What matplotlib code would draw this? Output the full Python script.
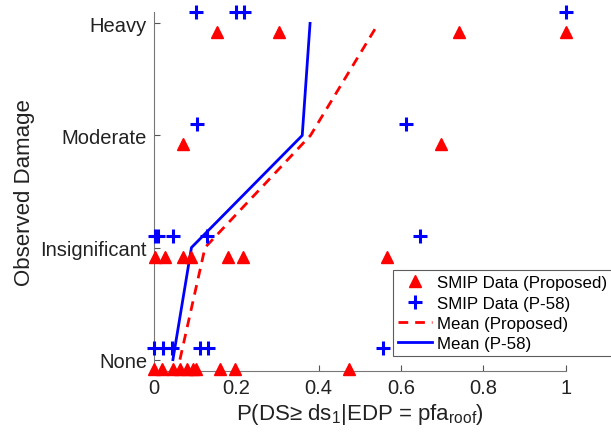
import matplotlib
matplotlib.use("Agg")
import matplotlib.pyplot as plt
import numpy as np

plt.rcParams["font.family"] = ["Liberation Sans", "DejaVu Sans"]
plt.rcParams["mathtext.fontset"] = "custom"
plt.rcParams["mathtext.rm"] = "Liberation Sans"
plt.rcParams["mathtext.it"] = "Liberation Sans"

damage_levels = ["None", "Insignificant", "Moderate", "Heavy"]

# SMIP data, proposed method: x value and damage level index
proposed_x = [0.152, 0.304, 0.741, 1.0,
              0.071, 0.697,
              0.002, 0.027, 0.071, 0.091, 0.18, 0.217, 0.567,
              0.0, 0.019, 0.047, 0.063, 0.079, 0.095, 0.103, 0.16, 0.197, 0.474]
proposed_lvl = [3, 3, 3, 3,
                2, 2,
                1, 1, 1, 1, 1, 1, 1,
                0, 0, 0, 0, 0, 0, 0, 0, 0, 0]

# SMIP data, P-58
p58_x = [0.101, 0.2, 0.218, 1.0,
         0.104, 0.612,
         0.002, 0.01, 0.047, 0.128, 0.646,
         0.0, 0.021, 0.043, 0.112, 0.132, 0.557]
p58_lvl = [3, 3, 3, 3,
           2, 2,
           1, 1, 1, 1, 1,
           0, 0, 0, 0, 0, 0]

# mean curves
mean_lvl = [0, 1, 2, 3]
mean_proposed = [0.063, 0.124, 0.38, 0.545]
mean_p58 = [0.046, 0.091, 0.36, 0.379]

fig = plt.figure(figsize=(6.11, 4.39), dpi=100)
ax = fig.add_axes([0.252, 0.153, 0.674, 0.817])

ax.plot(proposed_x, np.array(proposed_lvl) - 0.08, "^", color="red",
        markersize=9, label="SMIP Data (Proposed)", clip_on=False, zorder=3)
ax.plot(p58_x, np.array(p58_lvl) + 0.1, "+", color="blue",
        markersize=10, markeredgewidth=2.2, label="SMIP Data (P-58)",
        clip_on=False, zorder=3)
ax.plot(mean_proposed, mean_lvl, "--", color="red", lw=2,
        dashes=(3.5, 2.5), label="Mean (Proposed)")
ax.plot(mean_p58, mean_lvl, "-", color="blue", lw=2, label="Mean (P-58)")

ax.set_xlim(0, 1)
ax.set_ylim(-0.1, 3.1)
ax.set_xticks([0, 0.2, 0.4, 0.6, 0.8, 1])
ax.set_xticklabels(["0", "0.2", "0.4", "0.6", "0.8", "1"])
ax.set_yticks(range(4))
ax.set_yticklabels(damage_levels)
ax.tick_params(direction="in", length=4, labelsize=14.5, colors="#555555",
               labelcolor="#222222", pad=5)
for s in ["top", "right"]:
    ax.spines[s].set_visible(False)
for s in ["left", "bottom"]:
    ax.spines[s].set_color("#777777")
    ax.spines[s].set_linewidth(0.8)

ax.set_ylabel("Observed Damage", fontsize=16, color="#222222", labelpad=4)
ax.set_xlabel("P(DS\u2265 ds$_1$|EDP = pfa$_{\\mathrm{roof}}$)", fontsize=16,
              color="#222222", labelpad=3)

leg = ax.legend(loc="upper left", bbox_to_anchor=(0.58, 0.281), fontsize=12.2,
                frameon=True, fancybox=False, handlelength=2.0,
                handletextpad=0.3, labelspacing=0.32, borderpad=0.3,
                borderaxespad=0)
leg.get_frame().set_edgecolor("#333333")
leg.get_frame().set_linewidth(0.8)

fig.savefig("out.png", dpi=100)
